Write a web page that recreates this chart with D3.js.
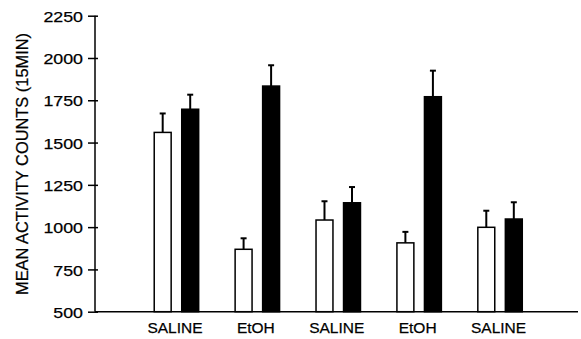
<!DOCTYPE html>
<html>
<head>
<meta charset="utf-8">
<script src="https://cdn.jsdelivr.net/npm/d3@7"></script>
<style>
  html, body { margin: 0; padding: 0; background: #fff; }
  svg { display: block; font-family: "Liberation Sans", Arial, Helvetica, sans-serif; }
</style>
</head>
<body>
<svg id="chart" width="581" height="339"></svg>
<script>
// Treatment groups along the x axis
const groups = ["SALINE", "EtOH", "SALINE", "EtOH", "SALINE"];
// Open bars: means and standard errors
const openMeans = [1560, 869, 1042, 907, 999];
const openSem   = [112, 65, 111, 65, 98];
// Filled bars: means and standard errors
const filledMeans = [1697, 1834, 1144, 1771, 1048];
const filledSem   = [86, 123, 93, 154, 99];
// Y axis ticks
const yTicks = [500, 750, 1000, 1250, 1500, 1750, 2000, 2250];
const yTitle = "MEAN ACTIVITY COUNTS (15MIN)";

const svg = d3.select("#chart");
const axisX = 95, baseY = 311.7, topY = 15.7, rightX = 578;

const y = d3.scaleLinear().domain([500, 2250]).range([baseY, topY]);
const x0 = d3.scaleBand().domain(d3.range(groups.length))
  .range([136, 540.5]).paddingInner(0.432).paddingOuter(0.216);
const x1 = d3.scaleBand().domain(["open", "filled"])
  .range([0, x0.bandwidth()]).paddingInner(0.33);

const rows = [];
groups.forEach((g, i) => {
  rows.push({ i, key: "open", v: openMeans[i], e: openSem[i] });
  rows.push({ i, key: "filled", v: filledMeans[i], e: filledSem[i] });
});

const sw = 1.5;
// Bars
svg.append("g").selectAll("rect").data(rows).join("rect")
  .attr("x", d => x0(d.i) + x1(d.key) + sw / 2)
  .attr("width", x1.bandwidth() - sw)
  .attr("y", d => y(d.v))
  .attr("height", d => baseY - y(d.v))
  .attr("fill", d => d.key === "open" ? "#fff" : "#000")
  .attr("stroke", "#000")
  .attr("stroke-width", sw);

// Error bars (upward only)
const eb = svg.append("g").selectAll("g").data(rows).join("g")
  .attr("transform", d => `translate(${x0(d.i) + x1(d.key) + x1.bandwidth() / 2},0)`);
eb.append("line")
  .attr("x1", 0).attr("x2", 0)
  .attr("y1", d => y(d.v)).attr("y2", d => y(d.v + d.e))
  .attr("stroke", "#000").attr("stroke-width", 2);
eb.append("line")
  .attr("x1", -3).attr("x2", 3)
  .attr("y1", d => y(d.v + d.e)).attr("y2", d => y(d.v + d.e))
  .attr("stroke", "#000").attr("stroke-width", 2);

// Y axis
const yAxis = d3.axisLeft(y).tickValues(yTicks).tickSize(10).tickPadding(0).tickFormat(d3.format("d"));
const yg = svg.append("g").attr("transform", `translate(${axisX},0)`).call(yAxis);
yg.select(".domain").remove();
yg.selectAll(".tick line").attr("x1", 3).attr("x2", -7).attr("stroke", "#000").attr("stroke-width", 1.5);
yg.selectAll(".tick text")
  .attr("x", -12).attr("dy", "0.36em")
  .attr("font-size", 15.5).attr("fill", "#000")
  .attr("stroke", "#000").attr("stroke-width", 0.25)
  .attr("text-anchor", "end")
  .attr("textLength", d => String(d).length * 9.9)
  .attr("lengthAdjust", "spacingAndGlyphs");
svg.append("line").attr("x1", axisX).attr("x2", axisX).attr("y1", topY).attr("y2", baseY)
  .attr("stroke", "#000").attr("stroke-width", 1.5);

// X axis baseline and group labels
svg.append("line").attr("x1", axisX).attr("x2", rightX).attr("y1", baseY).attr("y2", baseY)
  .attr("stroke", "#000").attr("stroke-width", 1.5);
svg.append("g").selectAll("text").data(groups).join("text")
  .attr("x", (d, i) => x0(i) + x0.bandwidth() / 2 - 1.5)
  .attr("y", 332.5)
  .attr("text-anchor", "middle")
  .attr("font-size", 15.5)
  .attr("fill", "#000")
  .attr("stroke", "#000").attr("stroke-width", 0.25)
  .text(d => d);

// Y axis title
svg.append("text")
  .attr("transform", "translate(28.3,164) rotate(-90)")
  .attr("text-anchor", "middle")
  .attr("font-size", 17)
  .attr("fill", "#000")
  .attr("stroke", "#000").attr("stroke-width", 0.25)
  .attr("textLength", 262)
  .attr("lengthAdjust", "spacingAndGlyphs")
  .text(yTitle);
</script>
</body>
</html>
